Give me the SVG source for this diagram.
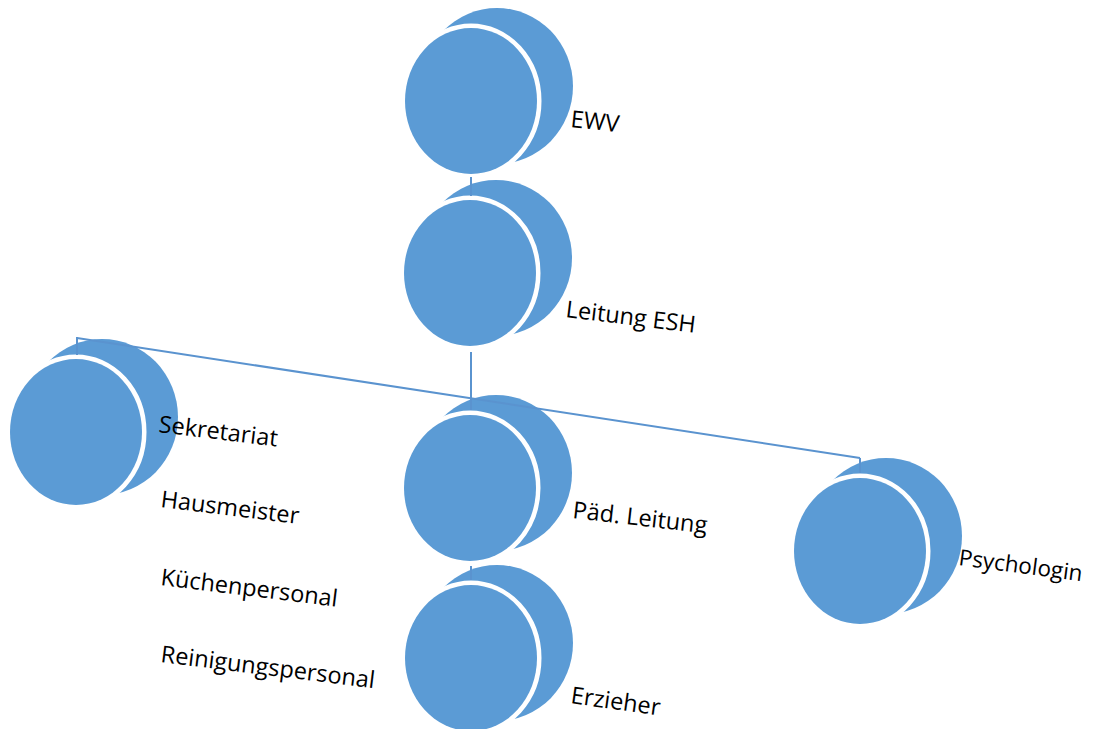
<svg xmlns="http://www.w3.org/2000/svg" width="1093" height="729" viewBox="0 0 1093 729">
<style>
.back{fill:#5B9BD5}
.front{fill:#5B9BD5;stroke:#FFFFFF;stroke-width:9;paint-order:stroke}
.lbl{font-family:"Open Sans","Liberation Sans",sans-serif;font-size:23.5px;fill:#000}
.conn line{stroke:#5A93CF;stroke-width:2;fill:none}
</style>
<defs>
<g id="disc">
<ellipse class="back" cx="26" cy="-15" rx="76" ry="78"/>
<ellipse class="front" cx="0" cy="0" rx="66" ry="73"/>
</g>
</defs>
<rect width="1093" height="729" fill="#FFFFFF"/>
<g id="node-ewv">
<use href="#disc" x="471" y="101"/>
<text class="lbl" transform="translate(570,127) rotate(6)">EWV</text>
</g>
<g id="node-leitung-esh">
<use href="#disc" x="470" y="273"/>
<text class="lbl" transform="translate(565,317) rotate(7)">Leitung ESH</text>
</g>
<g id="node-sekretariat">
<use href="#disc" x="76" y="432"/>
<text class="lbl" transform="translate(158,432) rotate(7)">Sekretariat</text>
<text class="lbl" transform="translate(160,507) rotate(7)">Hausmeister</text>
<text class="lbl" transform="translate(160,585) rotate(7)">Küchenpersonal</text>
<text class="lbl" transform="translate(160,662) rotate(7)">Reinigungspersonal</text>
</g>
<g id="node-paed-leitung">
<use href="#disc" x="470" y="488"/>
<text class="lbl" transform="translate(572,518) rotate(6.5)">Päd. Leitung</text>
</g>
<g id="node-erzieher">
<use href="#disc" x="471" y="658"/>
<text class="lbl" transform="translate(570,703) rotate(8)">Erzieher</text>
</g>
<g id="node-psychologin">
<use href="#disc" x="860" y="551"/>
<text class="lbl" style="font-size:22.5px" transform="translate(958,565) rotate(7.5)">Psychologin</text>
</g>
<g id="connectors" class="conn">
<line x1="471" y1="177" x2="471" y2="196"/>
<line x1="471" y1="352" x2="471" y2="398"/>
<line x1="77" y1="338" x2="860" y2="458"/>
<line x1="77" y1="337" x2="77" y2="355"/>
<line x1="471" y1="398" x2="471" y2="410"/>
<line x1="860" y1="458" x2="860" y2="473"/>
<line x1="471" y1="566" x2="471" y2="580"/>
</g>
</svg>
